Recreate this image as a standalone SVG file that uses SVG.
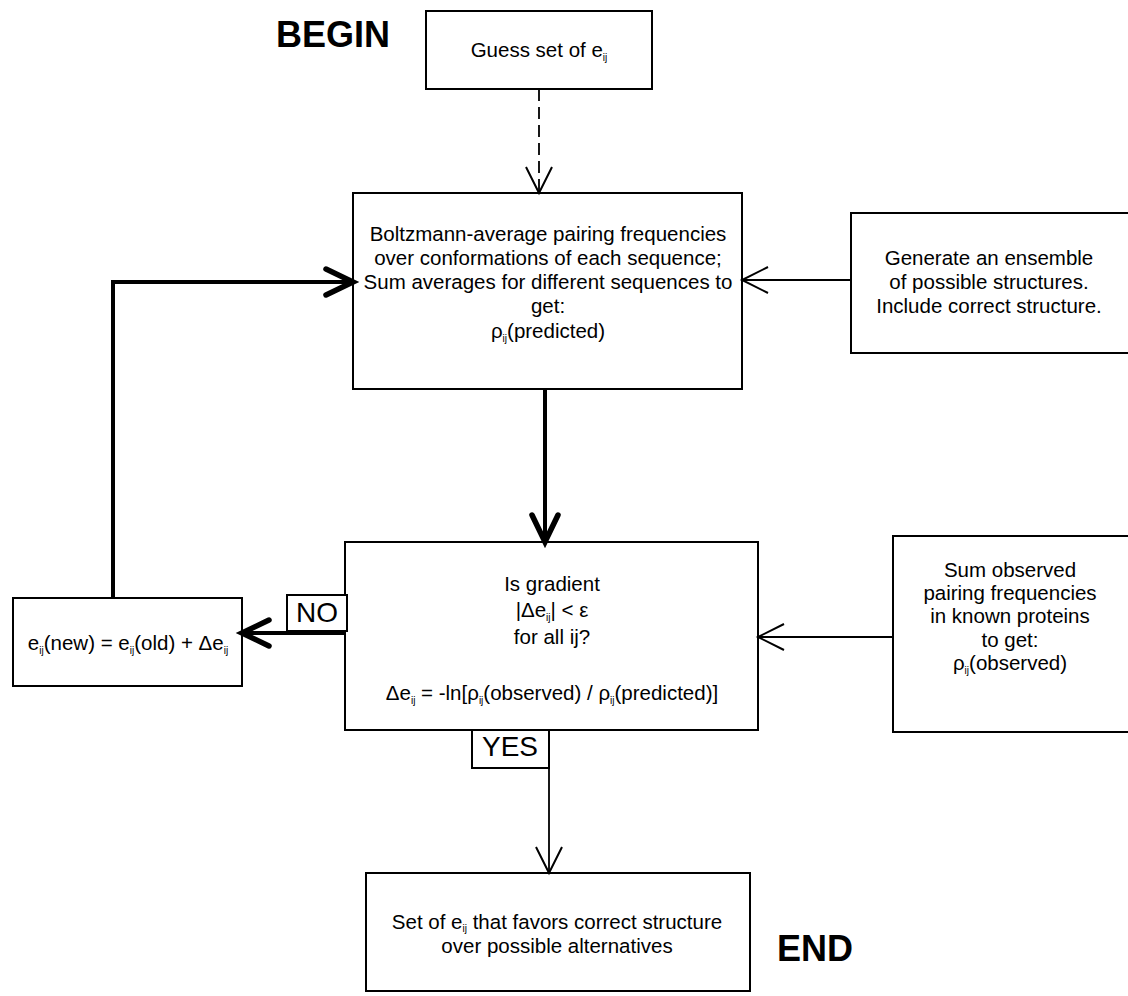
<svg xmlns="http://www.w3.org/2000/svg" width="1128" height="996" viewBox="0 0 1128 996">
<defs>
<style>
.box{fill:#fff;stroke:#000;stroke-width:2}
.t{font-family:"Liberation Sans",Arial,sans-serif;font-size:20.5px;fill:#000;text-anchor:middle}
.sub{font-size:10px}
.lbl{font-family:"Liberation Sans",Arial,sans-serif;font-size:28px;fill:#000;text-anchor:middle}
.big{font-family:"Liberation Sans",Arial,sans-serif;font-size:36px;font-weight:bold;fill:#000}
.thin{fill:none;stroke:#000;stroke-width:1.8}
.thick{fill:none;stroke:#000;stroke-width:4}
.dash{fill:none;stroke:#000;stroke-width:1.8;stroke-dasharray:12 6}
</style>
<marker id="vThin" markerUnits="userSpaceOnUse" viewBox="-32 -18 36 36" markerWidth="36" markerHeight="36" refX="0" refY="0" orient="auto" overflow="visible">
<path d="M-26,-13 L0,0 L-26,13" fill="none" stroke="#000" stroke-width="2"/>
</marker>
<marker id="vThick" markerUnits="userSpaceOnUse" viewBox="-34 -20 40 40" markerWidth="40" markerHeight="40" refX="0" refY="0" orient="auto" overflow="visible">
<path d="M-27,-13 L0,0 L-27,13" fill="none" stroke="#000" stroke-width="5.5" stroke-linecap="round"/>
</marker>
</defs>
<rect width="1128" height="996" fill="#fff"/>

<text class="big" x="276" y="47">BEGIN</text>
<text class="big" x="777" y="961">END</text>

<g id="guess">
<rect class="box" x="426" y="11" width="226" height="78"/>
<text class="t" x="539" y="57">Guess set of e<tspan class="sub" dy="4">ij</tspan></text>
</g>

<g id="boltzmann">
<rect class="box" x="353" y="193" width="389" height="196"/>
<text class="t" x="548" y="241">Boltzmann-average pairing frequencies</text>
<text class="t" x="548" y="265">over conformations of each sequence;</text>
<text class="t" x="548" y="289">Sum averages for different sequences to</text>
<text class="t" x="548" y="313">get:</text>
<text class="t" x="548" y="338">ρ<tspan class="sub" dy="4">ij</tspan><tspan dy="-4">(predicted)</tspan></text>
</g>

<g id="generate">
<rect class="box" x="851" y="213" width="290" height="140"/>
<text class="t" x="989" y="265">Generate an ensemble</text>
<text class="t" x="989" y="289">of possible structures.</text>
<text class="t" x="989" y="313">Include correct structure.</text>
</g>

<g id="gradient">
<rect class="box" x="345" y="542" width="413" height="188"/>
<text class="t" x="552" y="591">Is gradient</text>
<text class="t" x="552" y="617">|Δe<tspan class="sub" dy="4">ij</tspan><tspan dy="-4">| &lt; ε</tspan></text>
<text class="t" x="552" y="644">for all ij?</text>
<text class="t" x="552" y="700">Δe<tspan class="sub" dy="4">ij</tspan><tspan dy="-4"> = -ln[ρ</tspan><tspan class="sub" dy="4">ij</tspan><tspan dy="-4">(observed) / ρ</tspan><tspan class="sub" dy="4">ij</tspan><tspan dy="-4">(predicted)]</tspan></text>
</g>

<g id="newe">
<rect class="box" x="13" y="598" width="229" height="88"/>
<text class="t" x="128" y="650">e<tspan class="sub" dy="4">ij</tspan><tspan dy="-4">(new) = e</tspan><tspan class="sub" dy="4">ij</tspan><tspan dy="-4">(old) + Δe</tspan><tspan class="sub" dy="4">ij</tspan></text>
</g>

<g id="observed">
<rect class="box" x="893" y="536" width="250" height="196"/>
<text class="t" x="1010" y="577">Sum observed</text>
<text class="t" x="1010" y="600">pairing frequencies</text>
<text class="t" x="1010" y="623">in known proteins</text>
<text class="t" x="1010" y="647">to get:</text>
<text class="t" x="1010" y="670">ρ<tspan class="sub" dy="4">ij</tspan><tspan dy="-4">(observed)</tspan></text>
</g>

<g id="endbox">
<rect class="box" x="366" y="873" width="384" height="118"/>
<text class="t" x="557" y="929">Set of e<tspan class="sub" dy="3">ij</tspan><tspan dy="-3"> that favors correct structure</tspan></text>
<text class="t" x="557" y="953">over possible alternatives</text>
</g>

<g id="connectors">
<line class="dash" x1="539" y1="89" x2="539" y2="193" marker-end="url(#vThin)"/>
<line class="thin" x1="851" y1="280" x2="742" y2="280" marker-end="url(#vThin)"/>
<polyline class="thick" points="113,598 113,282 353,282" marker-end="url(#vThick)"/>
<line class="thick" x1="545" y1="389" x2="545" y2="542" marker-end="url(#vThick)"/>
<line class="thick" x1="345" y1="633" x2="242" y2="633" marker-end="url(#vThick)"/>
<line class="thin" x1="893" y1="637" x2="758" y2="637" marker-end="url(#vThin)"/>
<line class="thin" x1="549" y1="768" x2="549" y2="873" marker-end="url(#vThin)"/>
<g id="label-no">
<rect class="box" x="287" y="595" width="60" height="36"/>
<text class="lbl" x="317" y="622">NO</text>
</g>
<g id="label-yes">
<rect class="box" x="472" y="730" width="77" height="38"/>
<text class="lbl" x="510" y="756">YES</text>
</g>
</g>
</svg>
